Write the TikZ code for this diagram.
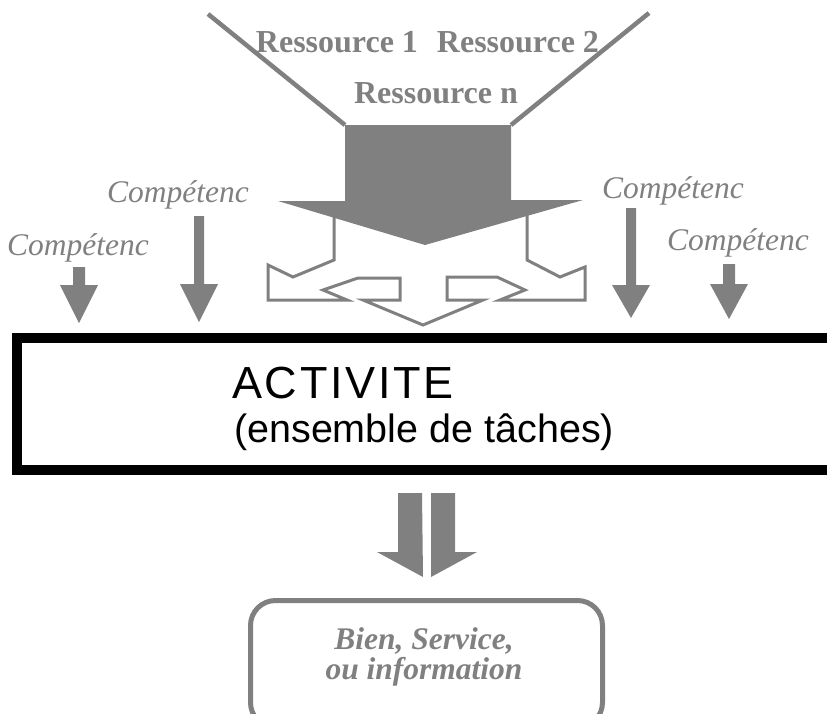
\documentclass[tikz,border=0pt]{standalone}
\usepackage{fontspec}
\setmainfont{Liberation Serif}
\setsansfont{Liberation Sans}
\definecolor{ink}{HTML}{808080}
\tikzset{
  res/.style={font=\bfseries\fontsize{32}{38}\selectfont, text=ink, anchor=base, inner sep=0pt},
  comp/.style={font=\itshape\fontsize{31.5}{37}\selectfont, text=ink, anchor=base west, inner sep=0pt},
  solidarrow/.style={fill=ink, draw=none},
  hollowarrow/.style={draw=ink, line width=3pt, line join=miter},
  funnel/.style={draw=ink, line width=4.5pt},
  actbox/.style={draw=black, line width=10pt, fill=white, inner sep=0pt},
  outbox/.style={draw=ink, line width=5pt, rounded corners=25pt, inner sep=0pt},
  outtext/.style={font=\bfseries\itshape\fontsize{31.5}{37}\selectfont, text=ink, anchor=base, inner sep=0pt},
}
% filled down arrow: centre x, top of shaft, start of head, tip, shaft half-width
\newcommand\comparrow[5]{%
  \fill[ink] (#1-#5,#2) -- (#1+#5,#2) -- (#1+#5,#3) -- (#1+19,#3) -- (#1,#4)
    -- (#1-19,#3) -- (#1-#5,#3) -- cycle;}
\begin{document}
\begin{tikzpicture}[x=1pt,y=-1pt]
\useasboundingbox (0,0) rectangle (827,713);
\begin{scope}
\clip (0,0) rectangle (827,713);

% funnel collecting the resources
\coordinate (fl) at (208,14);
\coordinate (fr) at (649,13);
\coordinate (bl) at (345,125);
\coordinate (br) at (511,125);
\draw[funnel] (fl) -- (bl);
\draw[funnel] (fr) -- (br);

\node[res] (r1) at (337,52) {Ressource 1};
\node[res] (r2) at (518,52) {Ressource 2};
\node[res] (rn) at (436,103) {Ressource n};

% hollow split arrow under the big arrow
\draw[hollowarrow] (334,205) -- (334,260) -- (293,277) -- (268,265) -- (268,300)
  -- (347,300) -- (323,290) -- (358,278) -- (400,278) -- (400,300) -- (363,300)
  -- (423,325) -- (483,300) -- (447,300) -- (447,277) -- (497,277) -- (525,290)
  -- (500,300) -- (585,300) -- (585,267) -- (560,277) -- (527,260) -- (527,205);

% big solid arrow
\fill[solidarrow] (bl) -- (br) -- (511,200) -- (583,200) -- (425,245)
  -- (278,201) -- (345,201) -- cycle;

% competences
\node[comp] (c1) at (107,202) {Compétenc};
\node[comp] (c2) at (7,255) {Compétenc};
\node[comp] (c3) at (602,198) {Compétenc};
\node[comp] (c4) at (667,250) {Compétenc};
\comparrow{79}{267}{285}{323}{6}
\comparrow{199}{216}{284}{322}{5}
\comparrow{631}{208}{285}{318}{5}
\comparrow{729}{264}{284}{319}{6}

% activity box
\node[actbox, minimum width=840pt, minimum height=132pt, anchor=north west]
  (act) at (12,333) {};
\node[font=\sffamily\fontsize{45}{50}\selectfont\addfontfeature{LetterSpace=6},
  anchor=base west, inner sep=0pt] (t1) at (232,398) {ACTIVITE};
\node[font=\sffamily\fontsize{39.5}{45}\selectfont, anchor=base west, inner sep=0pt]
  (t2) at (234,442) {(ensemble de tâches)};

% output arrows
\fill[solidarrow] (398,493) -- (422,493) -- (423,577) -- (377,552) -- (398,552) -- cycle;
\fill[solidarrow] (431,493) -- (455,493) -- (455,552) -- (477,552) -- (431,577) -- cycle;

% result box
\node[outbox, minimum width=352pt, minimum height=127pt, anchor=north west]
  (out) at (248,598) {};
\node[outtext] (o1) at (424,649) {Bien, Service,};
\node[outtext] (o2) at (424,679) {ou information};
\end{scope}
\end{tikzpicture}
\end{document}
